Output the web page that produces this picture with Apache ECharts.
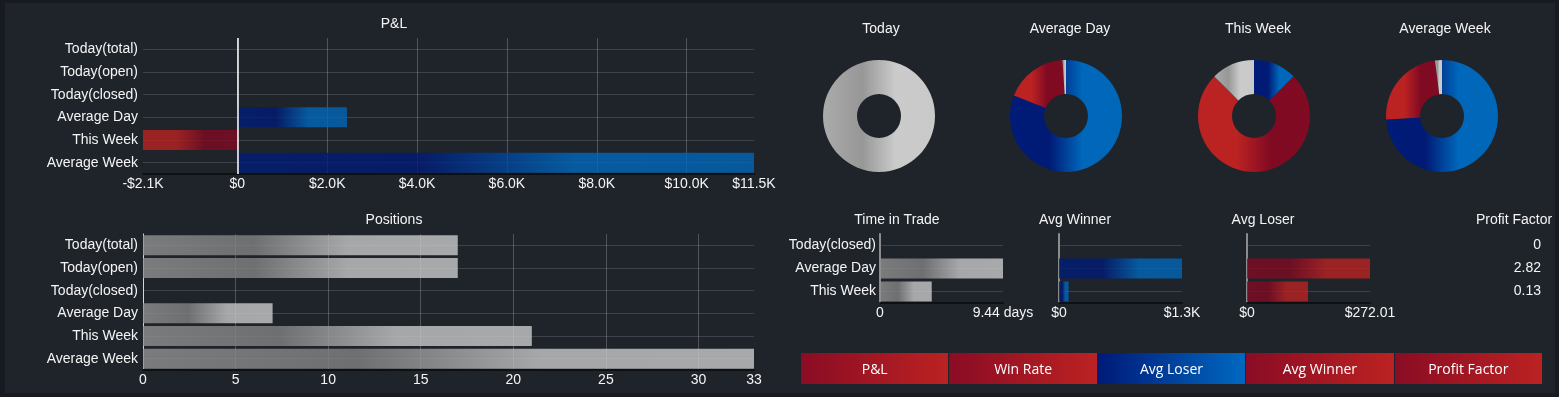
<!DOCTYPE html>
<html>
<head>
<meta charset="utf-8">
<script src="https://cdn.jsdelivr.net/npm/echarts@6/dist/echarts.min.js"></script>
<style>
  html, body { margin: 0; padding: 0; background: #171b21; }
  #panel { position: absolute; left: 5px; top: 3px; width: 1550px; height: 390px; background: #1f242b; }
  #chart { position: absolute; left: 0; top: 0; width: 1559px; height: 397px; }
  #buttons { position: absolute; left: 801px; top: 353px; width: 741px; height: 31px; display: flex; }
  #buttons div {
    flex: 1; margin-left: 1px; line-height: 31px; text-align: center; color: #fff;
    font-family: "Open Sans", sans-serif; font-size: 14px;
    background: linear-gradient(to right, #8a0c24, #bb2222);
  }
  #buttons div:first-child { margin-left: 0; }
  #buttons div.active { background: linear-gradient(to right, #001a78, #0068c0); }
</style>
</head>
<body>
<div id="panel"></div>
<div id="chart"></div>
<div id="buttons"></div>
<script>
// data
const categories = ['Today(total)', 'Today(open)', 'Today(closed)', 'Average Day', 'This Week', 'Average Week'];
const pnlValues = [0, 0, 0, 2440, -2100, 11500];
const pnlTicks = [-2100, 0, 2000, 4000, 6000, 8000, 10000, 11500];
const pnlGridTicks = [0, 2000, 4000, 6000, 8000, 10000];
const positionValues = [17, 17, 0, 7, 21, 33];
const positionTicks = [0, 5, 10, 15, 20, 25, 30, 33];
const positionGridTicks = [5, 10, 15, 20, 25, 30];

const pieTitles = ['Today', 'Average Day', 'This Week', 'Average Week'];
const pieNames = ['Winners', 'Losers', 'Flat'];
const pieWinners = [0, 81, 1, 74];
const pieLosers = [0, 18, 6, 24];
const pieFlat = [1, 1, 1, 2];

const statCategories = ['Today(closed)', 'Average Day', 'This Week'];
const timeInTrade = [0, 9.44, 3.97];
const timeTicks = [0, 9.44];
const avgWinner = [0, 1300, 101.5];
const winnerTicks = [0, 1300];
const avgLoser = [0, 272.01, 135];
const loserTicks = [0, 272.01];
const profitFactor = ['0', '2.82', '0.13'];

const buttonLabels = ['P&L', 'Win Rate', 'Avg Loser', 'Avg Winner', 'Profit Factor'];
const activeButton = 'Avg Loser';

// buttons
const btnBox = document.getElementById('buttons');
buttonLabels.forEach(function (b) {
  const d = document.createElement('div');
  d.textContent = b;
  if (b === activeButton) d.className = 'active';
  btnBox.appendChild(d);
});

const FONT = '"Liberation Sans", Arial, sans-serif';
const grad = function (colors) {
  return new echarts.graphic.LinearGradient(0, 0, 1, 0, colors.map(function (c, i) {
    return { offset: [0, 0.35, 0.65, 1][i], color: c };
  }));
};
const BLUE = ['#001c78', '#001a75', '#0068bb', '#0066b8'];
const RED_UP = ['#820a24', '#800a22', '#bb2222', '#bb2222'];
const RED_DOWN = ['#bb2222', '#bb2222', '#800a22', '#820a24'];
const GRAY_PIE = ['#ababab', '#979797', '#cbcbcb', '#c9c9c9'];
const GRAY_BAR = ['#919191', '#828282', '#c8c8c8', '#cacaca'];

const chart = echarts.init(document.getElementById('chart'));

const grids = [
  { left: 143, width: 611, top: 38, height: 136 },   // P&L
  { left: 143, width: 611, top: 234, height: 136 },  // Positions
  { left: 880, width: 123, top: 234, height: 69 },   // Time in Trade
  { left: 1059, width: 123, top: 234, height: 69 },  // Avg Winner
  { left: 1247, width: 123, top: 234, height: 69 },  // Avg Loser
  { left: 1547, width: 1, top: 234, height: 69 }     // Profit Factor
];

const labelStyle = { color: '#f4f4f4', fontSize: 14, fontFamily: FONT };
const hLines = { show: true, interval: 0, alignWithLabel: true, lineStyle: { color: 'rgba(255,255,255,0.14)', width: 1 } };
const vLines = { show: true, lineStyle: { color: 'rgba(255,255,255,0.22)', width: 1 } };
const bottomLine = { show: true, onZero: false, lineStyle: { color: '#0e1114', width: 2 } };

function valueAxis(gi, max, min, ticks, gridTicks, fmt) {
  return {
    type: 'value', gridIndex: gi, min: min, max: max,
    axisLine: bottomLine,
    axisTick: { show: false, customValues: gridTicks },
    splitLine: gridTicks.length ? vLines : { show: false },
    axisLabel: Object.assign({ customValues: ticks, margin: 3, formatter: fmt, showMinLabel: true, showMaxLabel: true }, labelStyle)
  };
}
function catAxis(gi, data, showLabels, axisLineColor, margin) {
  return {
    type: 'category', gridIndex: gi, data: data, inverse: true,
    axisTick: { show: false },
    axisLine: axisLineColor ? { show: true, onZero: false, lineStyle: { color: axisLineColor, width: gi >= 2 ? 2 : 1 } } : { show: false },
    axisLabel: Object.assign({ show: showLabels, margin: margin, interval: 0 }, labelStyle),
    splitLine: gi === 5 ? { show: false } : hLines
  };
}

const money = function (v) {
  if (v === 0) return '$0';
  const s = '$' + (Math.abs(v) / 1000).toFixed(1) + 'K';
  return v < 0 ? '-' + s : s;
};

const titles = [
  { text: 'P&L', x: 394, y: 24 },
  { text: 'Positions', x: 394, y: 220 },
  { text: pieTitles[0], x: 881, y: 29 },
  { text: pieTitles[1], x: 1070, y: 29 },
  { text: pieTitles[2], x: 1258, y: 29 },
  { text: pieTitles[3], x: 1445, y: 29 },
  { text: 'Time in Trade', x: 897, y: 220 },
  { text: 'Avg Winner', x: 1075, y: 220 },
  { text: 'Avg Loser', x: 1263, y: 220 },
  { text: 'Profit Factor', x: 1514, y: 220 }
];

const pieCenters = [879, 1066, 1254, 1442];
const pieSeries = pieTitles.map(function (t, i) {
  const vals = [pieWinners[i], pieLosers[i], pieFlat[i]];
  const colors = [BLUE, RED_DOWN, GRAY_PIE];
  return {
    type: 'pie', name: t, center: [pieCenters[i], 116], radius: [22, 56],
    startAngle: 90, clockwise: true, silent: true,
    label: { show: false }, labelLine: { show: false },
    itemStyle: { borderWidth: 0 },
    data: pieNames.map(function (n, j) {
      return { name: n, value: vals[j], itemStyle: { color: grad(colors[j]) } };
    })
  };
});

function barSeries(gi, values, colorFn, gap) {
  return {
    type: 'bar', xAxisIndex: gi, yAxisIndex: gi, barCategoryGap: gap, silent: true,
    data: values.map(function (v) {
      return { value: v, itemStyle: { color: colorFn(v), opacity: 0.8 } };
    })
  };
}

const pnlSeries = barSeries(0, pnlValues, function (v) { return v < 0 ? grad(RED_DOWN) : grad(BLUE); }, '12%');
pnlSeries.markLine = {
  silent: true, symbol: 'none', label: { show: false },
  lineStyle: { color: '#ffffff', width: 1.5, type: 'solid' },
  data: [{ xAxis: 0 }]
};

chart.setOption({
  animation: false,
  backgroundColor: 'transparent',
  textStyle: { fontFamily: FONT },
  grid: grids,
  graphic: titles.map(function (t) {
    return {
      type: 'text', x: t.x, y: t.y, silent: true,
      style: { text: t.text, fill: '#f4f4f4', font: '14px ' + FONT, align: 'center', verticalAlign: 'middle' }
    };
  }),
  xAxis: [
    valueAxis(0, 11500, -2100, pnlTicks, pnlGridTicks, money),
    valueAxis(1, 33, 0, positionTicks, positionGridTicks, function (v) { return String(v); }),
    valueAxis(2, 9.44, 0, timeTicks, [], function (v) { return v === 0 ? '0' : v + ' days'; }),
    valueAxis(3, 1300, 0, winnerTicks, [], money),
    valueAxis(4, 272.01, 0, loserTicks, [], function (v) { return v === 0 ? '$0' : '$' + v.toFixed(2); }),
    { type: 'value', gridIndex: 5, show: false }
  ],
  yAxis: [
    catAxis(0, categories, true, null, 5),
    catAxis(1, categories, true, '#d4d4d4', 5),
    catAxis(2, statCategories, true, '#8c8c8c', 4),
    catAxis(3, statCategories, false, '#8c8c8c', 4),
    catAxis(4, statCategories, false, '#8c8c8c', 4),
    catAxis(5, profitFactor, true, null, 6)
  ],
  series: [
    pnlSeries,
    barSeries(1, positionValues, function () { return grad(GRAY_BAR); }, '12%'),
    barSeries(2, timeInTrade, function () { return grad(GRAY_BAR); }, '13%'),
    barSeries(3, avgWinner, function () { return grad(BLUE); }, '13%'),
    barSeries(4, avgLoser, function () { return grad(RED_UP); }, '13%')
  ].concat(pieSeries)
});
</script>
</body>
</html>
